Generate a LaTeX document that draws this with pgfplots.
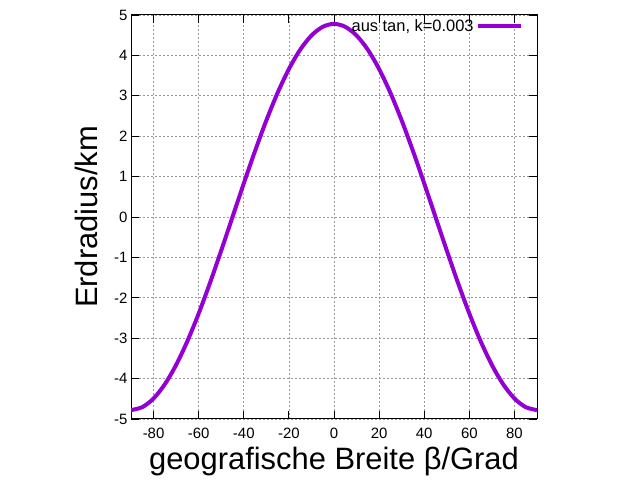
\documentclass[border=0pt]{standalone}
\usepackage{pgfplots}
\pgfplotsset{compat=1.18}
\usepackage{fontspec}
\setmainfont{Liberation Sans}
\definecolor{gpviolet}{RGB}{148,0,211}
\begin{document}
\begin{tikzpicture}[x=1bp,y=1bp]
\useasboundingbox (0,0) rectangle (640,480);
\begin{axis}[
  at={(131bp,61bp)}, anchor=south west,
  scale only axis, width=406bp, height=404bp,
  xmin=-90, xmax=90, ymin=-5, ymax=5,
  xtick={-80,-60,...,80}, ytick={-5,-4,...,5},
  tick align=inside, major tick length=8bp,
  axis line style={line width=1bp, black},
  every tick/.style={black, line width=0.8bp},
  grid=major,
  major grid style={gray!80, line width=0.7bp, dash pattern=on 1.5bp off 2.5bp},
  tick label style={font=\fontsize{15}{17}\selectfont},
  xticklabel style={yshift=-6bp},
  /pgf/number format/assume math mode=true,
  xlabel={geografische Breite β/Grad},
  ylabel={Erdradius/km},
  label style={font=\fontsize{31}{34}\selectfont},
  xlabel style={yshift=-4bp, inner sep=1bp},
  ylabel style={yshift=10bp},
  legend style={draw=none, fill=none, at={(0.97,1)}, anchor=north east,
    font=\fontsize{16.5}{19}\selectfont, inner sep=2bp},
  legend plot pos=right,
  legend cell align=right,
  legend image code/.code={\draw[#1, line width=4bp] (0bp,0bp) -- (43bp,0bp);},
]
\addplot[gpviolet, line width=4bp, smooth] coordinates {
(-90,-4.78) (-85,-4.707) (-80,-4.492) (-75,-4.140) (-70,-3.662) (-65,-3.073)
(-60,-2.390) (-55,-1.635) (-50,-0.830) (-45,0) (-40,0.830) (-35,1.635)
(-30,2.390) (-25,3.073) (-20,3.662) (-15,4.140) (-10,4.492) (-5,4.707)
(0,4.78) (5,4.707) (10,4.492) (15,4.140) (20,3.662) (25,3.073)
(30,2.390) (35,1.635) (40,0.830) (45,0) (50,-0.830) (55,-1.635)
(60,-2.390) (65,-3.073) (70,-3.662) (75,-4.140) (80,-4.492) (85,-4.707)
(90,-4.78)
};
\addlegendentry{aus tan, k=0.003}
\end{axis}
\end{tikzpicture}
\end{document}
